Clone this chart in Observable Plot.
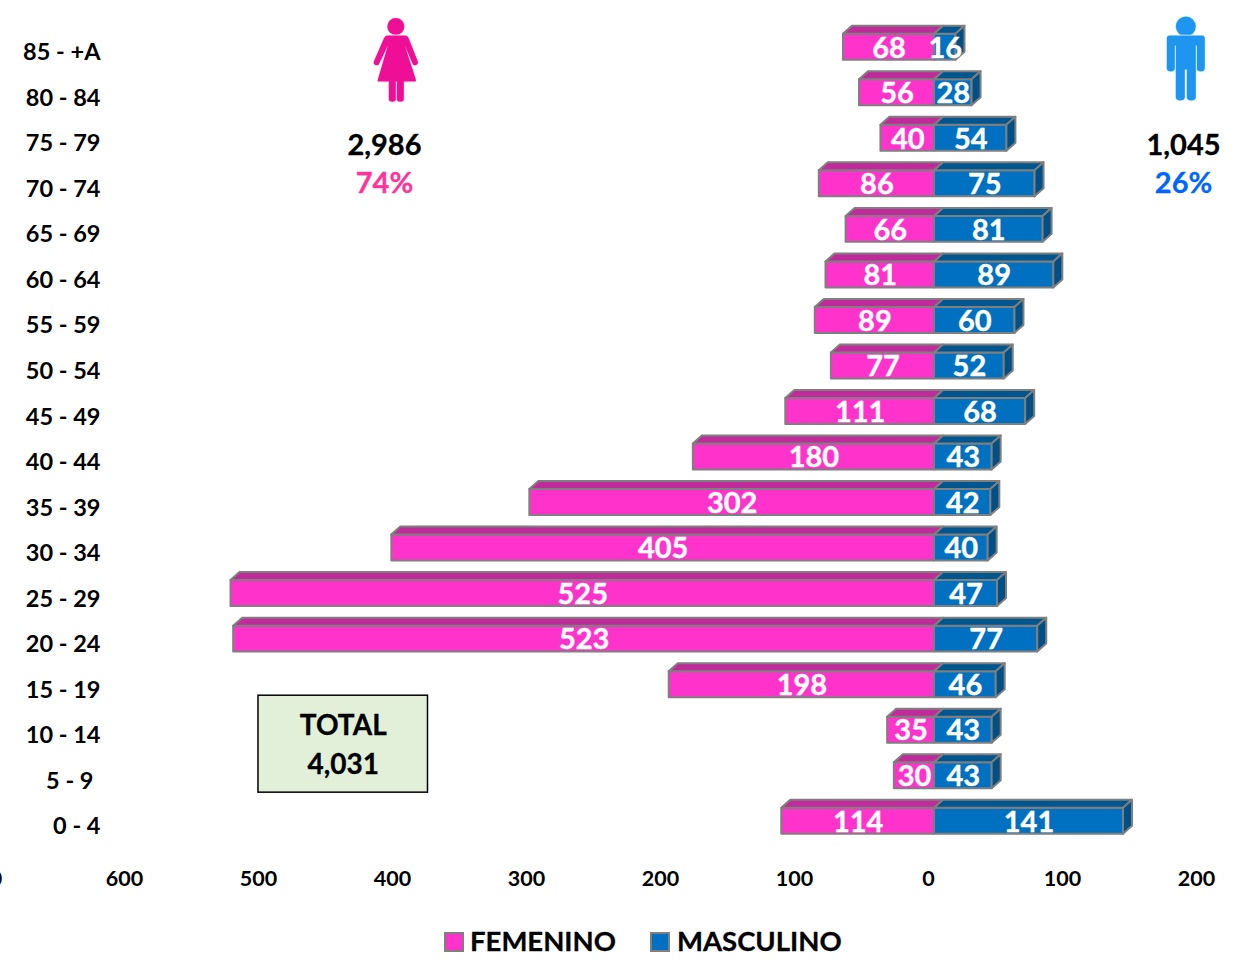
<!DOCTYPE html>
<html lang="es">
<head>
<meta charset="utf-8">
<script src="https://cdn.jsdelivr.net/npm/d3@7"></script>
<script src="https://cdn.jsdelivr.net/npm/@observablehq/plot@0.6"></script>
<style>
  html, body { margin: 0; padding: 0; background: #fff; overflow: hidden; width: 1243px; height: 965px; }
  #legend { position: relative; height: 50px; width: 1243px; font: 700 27.5px Lato, sans-serif; color: #000; -webkit-text-stroke: 0.3px #000; }
  #legend i { position: absolute; top: 17px; width: 16px; height: 16px; border: 2px solid #7f7f7f; box-sizing: content-box; }
  #legend span { position: absolute; top: 8px; line-height: 36px; white-space: nowrap; }
</style>
</head>
<body>
<div id="chart"></div>
<div id="legend"></div>
<script>
const ages = ["85 - +A","80 - 84","75 - 79","70 - 74","65 - 69","60 - 64","55 - 59","50 - 54","45 - 49","40 - 44","35 - 39","30 - 34","25 - 29","20 - 24","15 - 19","10 - 14","5 - 9","0 - 4"];
const femenino = [68,56,40,86,66,81,89,77,111,180,302,405,525,523,198,35,30,114];
const masculino = [16,28,54,75,81,89,60,52,68,43,42,40,47,77,46,43,43,141];
const ticks = [-600,-500,-400,-300,-200,-100,0,100,200];
const clippedTick = [-700];
const totals = [
  {x: -410.5, line1: "2,986", line2: "74%", color: "#ff3399"},
  {x: 185.8, line1: "1,045", line2: "26%", color: "#0066ff"}
];
const totalBox = [{x1: -504.5, x2: -378, age: "10 - 14", label1: "TOTAL", label2: "4,031"}];

const PINK = "#ff33cc", BLUE = "#0070c0", EDGE = "#7f7f7f";
const FONT = "Lato, sans-serif";

const womanSvg = `<svg xmlns="http://www.w3.org/2000/svg" viewBox="0 0 60 100"><g fill="#ee0f96" stroke="#fbe3f1" stroke-width="1.4" paint-order="stroke"><circle cx="30" cy="17" r="8.5"/><path d="M22 26H39c2 0 3 1 4 3L52 52c1 3-3 5-5 3L39 36 50 70c.5 1.5 0 2-1.5 2H38V90c0 3-7 3-7 0V72H30V90c0 3-7 3-7 0V72H13.5c-1.5 0-2-.5-1.5-2L22 36 13 55c-2 2-6 0-5-3L18 29c1-2 2-3 4-3z"/></g></svg>`;
const manSvg = `<svg xmlns="http://www.w3.org/2000/svg" viewBox="0 0 60 100"><g fill="#1e96f0" stroke="#e4f3fd" stroke-width="1.6" paint-order="stroke"><circle cx="30" cy="17" r="10"/><path d="M14 26H46c2 0 3 1 3 3V59c0 4-8 4-8 0V36H40V88c0 4-9 4-9 0V60H29V88c0 4-9 4-9 0V36H19V59c0 4-8 4-8 0V29c0-2 1-3 3-3z"/></g></svg>`;
const uri = s => "data:image/svg+xml;utf8," + encodeURIComponent(s);

// Bars with PowerPoint-style depth: the top and side faces are derived from each bar's own scaled rectangle.
function withDepth(topFill, sideFill) {
  const dx = 9, dy = 8;
  return function (index, scales, values, dimensions, context, next) {
    const g = next(index, scales, values, dimensions, context);
    const sel = d3.select(g);
    const rects = sel.selectAll("rect").nodes();
    const faces = [];
    for (const r of rects) {
      const x = +r.getAttribute("x"), y = +r.getAttribute("y"), w = +r.getAttribute("width"), h = +r.getAttribute("height");
      faces.push({fill: topFill, pts: [[x,y],[x+dx,y-dy],[x+w+dx,y-dy],[x+w,y]]});
      if (sideFill) faces.push({fill: sideFill, pts: [[x+w,y],[x+w+dx,y-dy],[x+w+dx,y+h-dy],[x+w,y+h]]});
    }
    for (const f of faces) {
      sel.append("polygon").attr("points", f.pts.map(p => p.join(",")).join(" ")).attr("fill", f.fill);
    }
    return g;
  };
}

const femRows = ages.map((age, i) => ({age, v: femenino[i]}));
const mascRows = ages.map((age, i) => ({age, v: masculino[i]}));
const edge = {stroke: EDGE, strokeWidth: 2, strokeLinejoin: "round"};
const valueText = {fill: "white", stroke: "white", strokeWidth: 0.4, fontSize: 29, fontWeight: 700, dy: 1};
const axisText = {fill: "black", fontWeight: 700, label: null, tickSize: 0};

const plot = Plot.plot({
  width: 1243,
  height: 915,
  marginTop: 0, marginRight: 0, marginBottom: 45, marginLeft: 100,
  style: {fontFamily: FONT, background: "transparent"},
  x: {domain: [-525, 141], range: [230.5, 1123]},
  y: {domain: ages, range: [24, 843.5], paddingInner: 0.43, paddingOuter: 0.215, round: false, label: null},
  marks: [
    Plot.axisY(ages.filter(a => a !== "5 - 9"), {anchor: "left", tickPadding: 0, dy: 5.5, fontSize: 23.5, ...axisText}),
    Plot.axisY(["5 - 9"], {anchor: "left", tickPadding: 7, dy: 5.5, fontSize: 23.5, ...axisText}),
    Plot.axisX(ticks, {anchor: "bottom", tickPadding: 0, dx: -6, tickFormat: d => Math.abs(d), fontSize: 21.5, ...axisText}),
    Plot.axisX(clippedTick, {anchor: "bottom", tickPadding: 0, dx: -13, tickFormat: d => Math.abs(d), fontSize: 21.5, ...axisText}),

    Plot.barX(femRows, {x1: 0, x2: d => -d.v, y: "age", fill: PINK, ...edge, render: withDepth("#c02a9a", null)}),
    Plot.barX(mascRows, {x1: 0, x2: "v", y: "age", fill: BLUE, ...edge, render: withDepth("#00568f", "#004f85")}),
    Plot.text(femRows, {x: d => -d.v / 2, y: "age", text: "v", ...valueText}),
    Plot.text(mascRows, {x: d => d.v / 2, y: "age", text: "v", ...valueText}),

    Plot.image([{x: -402}], {x: "x", frameAnchor: "top", src: () => uri(womanSvg), width: 60, height: 100, dy: 59}),
    Plot.image([{x: 187.5}], {x: "x", frameAnchor: "top", src: () => uri(manSvg), width: 60, height: 100, dy: 59}),
    Plot.text(totals, {x: "x", frameAnchor: "top", lineAnchor: "middle", text: "line1", fontSize: 29, fontWeight: 700, fill: "black", stroke: "black", strokeWidth: 0.3, dy: 145}),
    Plot.text(totals, {x: "x", frameAnchor: "top", lineAnchor: "middle", text: "line2", fontSize: 29, fontWeight: 700, fill: "color", stroke: "color", strokeWidth: 0.3, dy: 183}),

    Plot.barX(totalBox, {x1: "x1", x2: "x2", y: "age", fill: "#e2efd9", stroke: "black", strokeWidth: 1.5, insetTop: -21.5, insetBottom: -49.5}),
    Plot.text(totalBox, {x: d => (d.x1 + d.x2) / 2, y: "age", text: "label1", fontSize: 28, fontWeight: 700, fill: "black", stroke: "black", strokeWidth: 0.3, dy: -4.5}),
    Plot.text(totalBox, {x: d => (d.x1 + d.x2) / 2, y: "age", text: "label2", fontSize: 28, fontWeight: 700, fill: "black", stroke: "black", strokeWidth: 0.3, dy: 34.5})
  ]
});
document.getElementById("chart").appendChild(plot);

document.getElementById("legend").innerHTML = `
  <i style="left:444px;background:${PINK}"></i><span style="left:470px">FEMENINO</span>
  <i style="left:650px;background:${BLUE}"></i><span style="left:677px">MASCULINO</span>`;
</script>
</body>
</html>
